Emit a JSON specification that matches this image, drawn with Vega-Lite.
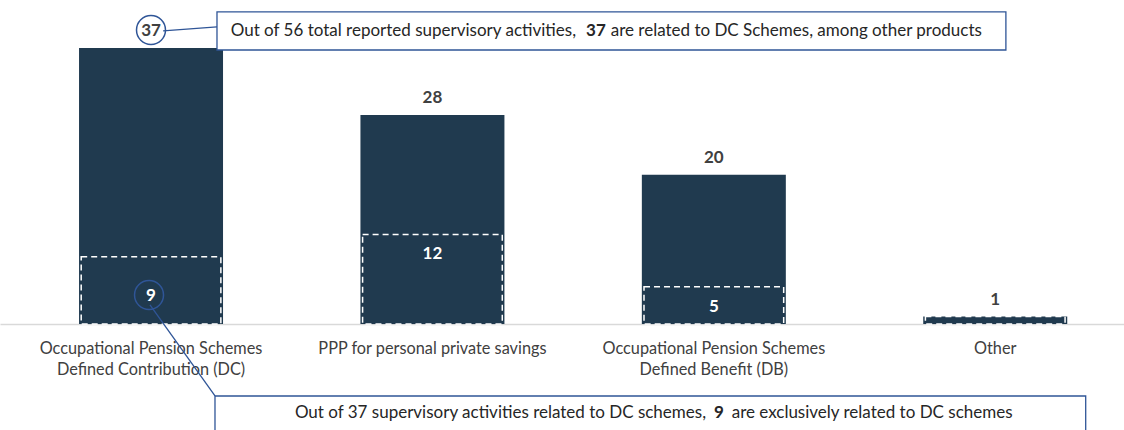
{
  "$schema": "https://vega.github.io/schema/vega-lite/v6.json",
  "width": 1124,
  "height": 324,
  "autosize": {"type": "none"},
  "padding": {"left": 0, "top": 0, "right": 0, "bottom": 106},
  "background": "white",
  "config": {"view": {"stroke": null}, "font": "Lato"},
  "datasets": {
    "bars": [
      {"category": "Occupational Pension Schemes\nDefined Contribution (DC)", "total": 37, "exclusive": 9},
      {"category": "PPP for personal private savings", "total": 28, "exclusive": 12},
      {"category": "Occupational Pension Schemes\nDefined Benefit (DB)", "total": 20, "exclusive": 5},
      {"category": "Other", "total": 1, "exclusive": 1}
    ],
    "circles": [
      {"x": 0, "y": 39.41, "label": "37"},
      {"x": -0.007, "y": 3.89, "label": "9"}
    ],
    "connectors": [
      {"x": 0.043, "y": 39.28, "x2": 0.2345, "y2": 39.82},
      {"x": -0.0036, "y": 2.55, "x2": 0.2274, "y2": -9.65}
    ],
    "boxes": [
      {"x": 0.2345, "x2": 3.038, "y": 41.83, "y2": 36.73},
      {"x": 0.2274, "x2": 3.3216, "y": -9.65, "y2": -14.8}
    ],
    "notes": [
      {"x": 1.5103, "y": 39.28, "part": "pre", "text": "Out of 56 total reported supervisory activities,"},
      {"x": 1.5813, "y": 39.28, "part": "bold", "text": "37"},
      {"x": 1.6336, "y": 39.28, "part": "post", "text": "are related to DC Schemes, among other products"},
      {"x": 1.9723, "y": -11.93, "part": "pre", "text": "Out of 37 supervisory activities related to DC schemes,"},
      {"x": 2.0185, "y": -11.93, "part": "bold", "text": "9"},
      {"x": 2.0636, "y": -11.93, "part": "post", "text": "are exclusively related to DC schemes"}
    ]
  },
  "layer": [
    {
      "data": {"name": "bars"},
      "encoding": {
        "x": {
          "field": "category",
          "type": "nominal",
          "sort": null,
          "scale": {"type": "band", "paddingInner": 0.4883, "paddingOuter": 0.2413, "align": 0.582},
          "axis": {
            "title": null,
            "ticks": false,
            "labelAngle": 0,
            "labelFont": "Lato",
            "labelFontSize": 16.3,
            "labelColor": "#404040",
            "labelPadding": 16,
            "labelLineHeight": 21,
            "labelBaseline": "top",
            "labelLimit": 0,
            "labelExpr": "split(datum.label, '\\n')",
            "domainColor": "#d9d9d9",
            "domainWidth": 1.5
          }
        }
      },
      "layer": [
        {
          "mark": {"type": "bar", "color": "#203a4f"},
          "encoding": {
            "y": {"field": "total", "type": "quantitative", "scale": {"domain": [0, 43.43], "nice": false, "zero": false}, "axis": null}
          }
        },
        {
          "mark": {"type": "bar", "fill": null, "stroke": "white", "strokeWidth": 1.5, "strokeDash": [6, 4], "width": {"band": 0.97}},
          "encoding": {
            "y": {"field": "exclusive", "type": "quantitative"},
            "y2": {"datum": 0}
          }
        },
        {
          "mark": {"type": "text", "font": "Lato", "fontSize": 17, "fontWeight": "bold", "color": "#404040", "baseline": "middle", "dy": -17},
          "encoding": {
            "y": {"field": "total", "type": "quantitative"},
            "text": {"field": "total"}
          }
        },
        {
          "transform": [{"filter": "datum.total > 1 && datum.exclusive != 9"}],
          "mark": {"type": "text", "font": "Lato", "fontSize": 17, "fontWeight": "bold", "color": "white", "baseline": "middle", "dy": 20},
          "encoding": {
            "y": {"field": "exclusive", "type": "quantitative"},
            "text": {"field": "exclusive"}
          }
        },
        {
          "transform": [{"filter": "datum.exclusive == 9"}],
          "mark": {"type": "text", "font": "Lato", "fontSize": 17, "fontWeight": "bold", "color": "white", "baseline": "middle", "dy": 39},
          "encoding": {
            "y": {"field": "exclusive", "type": "quantitative"},
            "text": {"field": "exclusive"}
          }
        }
      ]
    },
    {
      "layer": [
        {
          "data": {"name": "boxes"},
          "mark": {"type": "rect", "fill": "white", "stroke": "#2f5597", "strokeWidth": 1.3},
          "encoding": {
            "x": {"field": "x", "type": "quantitative", "scale": {"domain": [-0.5366, 3.4577], "nice": false, "zero": false}, "axis": null},
            "x2": {"field": "x2"},
            "y": {"field": "y", "type": "quantitative"},
            "y2": {"field": "y2"}
          }
        },
        {
          "data": {"name": "connectors"},
          "mark": {"type": "rule", "stroke": "#2f5597", "strokeWidth": 1.3},
          "encoding": {
            "x": {"field": "x", "type": "quantitative"},
            "x2": {"field": "x2"},
            "y": {"field": "y", "type": "quantitative"},
            "y2": {"field": "y2"}
          }
        },
        {
          "data": {"name": "circles"},
          "mark": {"type": "point", "shape": "circle", "filled": false, "stroke": "#2f5597", "strokeWidth": 1.5, "size": 840, "opacity": 1},
          "encoding": {
            "x": {"field": "x", "type": "quantitative"},
            "y": {"field": "y", "type": "quantitative"}
          }
        },
        {
          "data": {"name": "notes"},
          "transform": [{"filter": "datum.part == 'pre'"}],
          "mark": {"type": "text", "font": "Lato", "fontSize": 17, "color": "#262626", "align": "right", "baseline": "middle"},
          "encoding": {
            "x": {"field": "x", "type": "quantitative"},
            "y": {"field": "y", "type": "quantitative"},
            "text": {"field": "text"}
          }
        },
        {
          "data": {"name": "notes"},
          "transform": [{"filter": "datum.part == 'bold'"}],
          "mark": {"type": "text", "font": "Lato", "fontSize": 17, "fontWeight": "bold", "color": "#262626", "align": "center", "baseline": "middle"},
          "encoding": {
            "x": {"field": "x", "type": "quantitative"},
            "y": {"field": "y", "type": "quantitative"},
            "text": {"field": "text"}
          }
        },
        {
          "data": {"name": "notes"},
          "transform": [{"filter": "datum.part == 'post'"}],
          "mark": {"type": "text", "font": "Lato", "fontSize": 17, "color": "#262626", "align": "left", "baseline": "middle"},
          "encoding": {
            "x": {"field": "x", "type": "quantitative"},
            "y": {"field": "y", "type": "quantitative"},
            "text": {"field": "text"}
          }
        }
      ]
    }
  ],
  "resolve": {"scale": {"x": "independent"}}
}
